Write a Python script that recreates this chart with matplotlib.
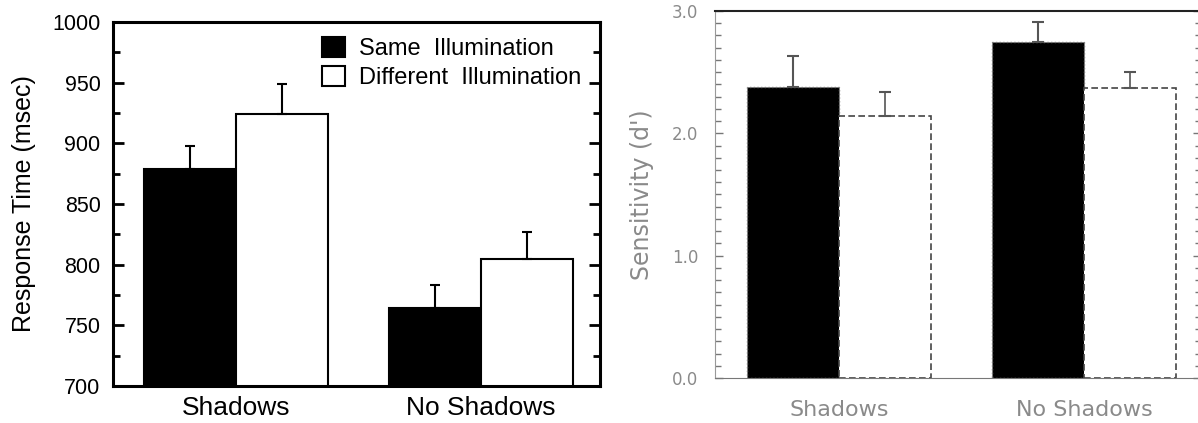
import matplotlib.pyplot as plt
from matplotlib.ticker import MultipleLocator
from matplotlib.patches import Patch
import numpy as np

plt.rcParams['font.family'] = ['Liberation Sans', 'DejaVu Sans']

groups = ['Shadows', 'No Shadows']
series = ['Same  Illumination', 'Different  Illumination']

# left panel: response time (msec)
rt_same = [879, 764]
rt_same_err = [19, 19]
rt_diff = [924, 805]
rt_diff_err = [25, 22]

# right panel: sensitivity d'
d_same = [2.38, 2.75]
d_same_err = [0.25, 0.16]
d_diff = [2.14, 2.37]
d_diff_err = [0.2, 0.13]

W, H = 1198, 423
fig = plt.figure(figsize=(W / 100, H / 100), dpi=100)

def px_axes(x0, y0, x1, y1):
    return fig.add_axes([x0 / W, 1 - y1 / H, (x1 - x0) / W, (y1 - y0) / H])

x = np.arange(len(groups))
bw = 0.376

# ---------- left panel ----------
ax = px_axes(113, 22, 600, 386)
ax.bar(x - bw / 2, rt_same, bw, color='black', edgecolor='black', linewidth=1.5,
       label=series[0], bottom=0)
ax.bar(x + bw / 2, rt_diff, bw, color='white', edgecolor='black', linewidth=1.5,
       label=series[1])
ax.errorbar(x - bw / 2, rt_same, yerr=[np.zeros(2), rt_same_err], fmt='none',
            ecolor='black', elinewidth=1.5, capsize=3.5, capthick=1.5)
ax.errorbar(x + bw / 2, rt_diff, yerr=[np.zeros(2), rt_diff_err], fmt='none',
            ecolor='black', elinewidth=1.5, capsize=3.5, capthick=1.5)
ax.set_ylim(700, 1000)
ax.set_xlim(-0.502, 1.486)
ax.yaxis.set_major_locator(MultipleLocator(50))
ax.yaxis.set_minor_locator(MultipleLocator(25))
ax.tick_params(axis='y', which='both', direction='in', left=True, right=True,
               width=2, labelsize=15.5, pad=9)
ax.tick_params(axis='y', which='major', length=8)
ax.tick_params(axis='y', which='minor', length=5)
ax.set_xticks(x)
ax.set_xticklabels(groups)
ax.tick_params(axis='x', length=0, labelsize=19, pad=7)
for s in ax.spines.values():
    s.set_linewidth(2.2)
ax.set_ylabel('Response Time (msec)', fontsize=18, labelpad=12)
handles = [Patch(facecolor='black', edgecolor='black', linewidth=1.5),
           Patch(facecolor='white', edgecolor='black', linewidth=1.5)]
ax.legend(handles, series, loc='upper right', bbox_to_anchor=(0.962, 0.96),
          frameon=False, fontsize=17, handlelength=0.97, handleheight=0.95,
          handletextpad=0.6, labelspacing=0.25, borderaxespad=0, borderpad=0)

# ---------- right panel ----------
gray = '#8a8a8a'
ax2 = px_axes(715, 11, 1201, 378)
ax2.bar(x - bw / 2, d_same, bw, color='black', edgecolor='#777777',
        linewidth=1.0, linestyle=':')
ax2.bar(x + bw / 2, d_diff, bw, color='white', edgecolor='#444444',
        linewidth=1.2, linestyle=(0, (4, 2)))
ax2.errorbar(x - bw / 2, d_same, yerr=[np.zeros(2), d_same_err], fmt='none',
             ecolor='#555555', elinewidth=1.5, capsize=4.5, capthick=1.5)
ax2.errorbar(x + bw / 2, d_diff, yerr=[np.zeros(2), d_diff_err], fmt='none',
             ecolor='#555555', elinewidth=1.2, capsize=4.5, capthick=1.5)
ax2.set_ylim(0, 3.0)
ax2.set_xlim(-0.506, 1.478)
ax2.yaxis.set_major_locator(MultipleLocator(1.0))
ax2.yaxis.set_minor_locator(MultipleLocator(0.1))
ax2.yaxis.set_major_formatter('{x:.1f}')
ax2.tick_params(axis='y', which='both', direction='in', left=True, right=True,
                color='#777777', width=1, labelsize=12, labelcolor=gray, pad=12)
ax2.tick_params(axis='y', which='major', length=6)
ax2.tick_params(axis='y', which='minor', length=4)
ax2.set_xticks(x)
ax2.set_xticklabels(groups, family='DejaVu Sans')
for lab in ax2.get_yticklabels():
    lab.set_family('DejaVu Sans')
ax2.tick_params(axis='x', length=0, labelsize=16, labelcolor=gray, pad=16)
ax2.spines['top'].set_color('#222222')
ax2.spines['top'].set_linewidth(1.5)
ax2.spines['left'].set_color('#999999')
ax2.spines['bottom'].set_color('#777777')
ax2.spines['right'].set_color('#999999')
ax2.set_ylabel("Sensitivity (d')", fontsize=17, color=gray, family='DejaVu Sans',
               labelpad=13)

fig.savefig('out.png', dpi=100)
